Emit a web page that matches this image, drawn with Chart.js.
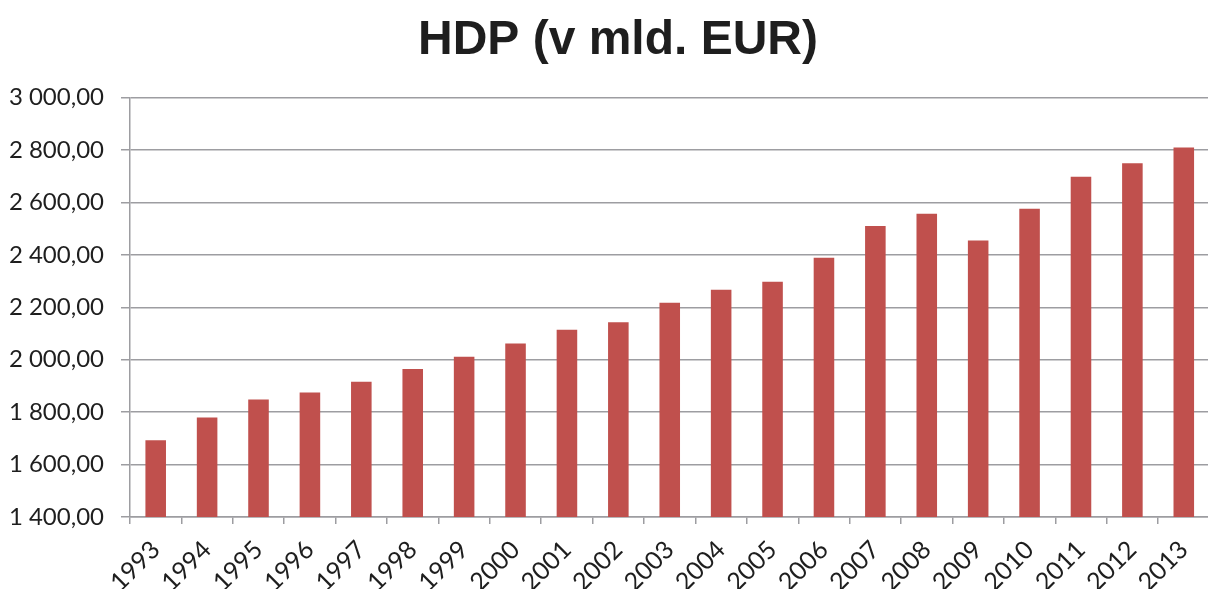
<!DOCTYPE html>
<html>
<head>
<meta charset="utf-8">
<script src="https://cdn.jsdelivr.net/npm/chart.js@4/dist/chart.umd.min.js"></script>
<style>
  html, body { margin: 0; padding: 0; background: #fff; overflow: hidden; }
  #wrap { width: 1208px; height: 589px; position: relative; overflow: hidden; }
  canvas { display: block; }
</style>
</head>
<body>
<div id="wrap"><canvas id="c" width="1216" height="589"></canvas></div>
<script>
const titleText = "HDP (v mld. EUR)";
const years = ["1993","1994","1995","1996","1997","1998","1999","2000","2001","2002","2003","2004","2005","2006","2007","2008","2009","2010","2011","2012","2013"];
const hdp = [1693, 1780, 1848, 1875, 1916, 1965, 2011, 2062, 2114, 2143, 2217, 2267, 2297, 2389, 2510, 2557, 2455, 2576, 2698, 2750, 2810];
const yMin = 1400, yMax = 3000, yStep = 200;

function fmt(v) {
  const parts = v.toFixed(2).split(".");
  const intPart = parts[0].replace(/\B(?=(\d{3})+(?!\d))/g, " ");
  return intPart + "," + parts[1];
}

const gridColor = "#9d9da1";
const textColor = "#1e1e1e";
const PAD_LEFT = 2;

const shiftTitle = {
  id: "shiftTitle",
  afterLayout(chart) {
    const tb = chart.titleBlock;
    if (tb) { tb.left += 9; tb.right += 9; }
  }
};

new Chart(document.getElementById("c"), {
  type: "bar",
  data: {
    labels: years,
    datasets: [{
      label: "HDP",
      data: hdp,
      backgroundColor: "#C0504D",
      borderWidth: 0,
      barPercentage: 0.40,
      categoryPercentage: 1.0
    }]
  },
  plugins: [shiftTitle],
  options: {
    responsive: false,
    animation: false,
    devicePixelRatio: 1,
    layout: { padding: { left: PAD_LEFT, right: 0, top: 8, bottom: 0 } },
    plugins: {
      legend: { display: false },
      tooltip: { enabled: false },
      title: {
        display: true,
        text: titleText,
        color: textColor,
        font: { family: "'Liberation Sans', Arial, sans-serif", size: 48, weight: "bold" },
        padding: { top: 4, bottom: 28 }
      }
    },
    scales: {
      x: {
        grid: { display: true, drawOnChartArea: false, drawTicks: true, tickLength: 7, color: gridColor, lineWidth: 1.5, offset: true },
        border: { display: true, color: gridColor, width: 1.5 },
        ticks: {
          color: textColor,
          font: { family: "Lato, 'Open Sans', sans-serif", size: 25 },
          maxRotation: 45, minRotation: 45,
          autoSkip: false,
          padding: 11
        },
        afterFit: (scale) => { scale.height = 72; }
      },
      y: {
        min: yMin, max: yMax,
        grid: { color: gridColor, lineWidth: 1.5, drawTicks: true, tickLength: 9 },
        border: { display: true, color: gridColor, width: 1.5 },
        ticks: {
          stepSize: yStep,
          color: textColor,
          font: { family: "Lato, 'Open Sans', sans-serif", size: 24 },
          padding: 17,
          callback: (v) => fmt(v)
        },
        afterFit: (scale) => { scale.width = 130 - PAD_LEFT; }
      }
    }
  }
});
</script>
</body>
</html>
